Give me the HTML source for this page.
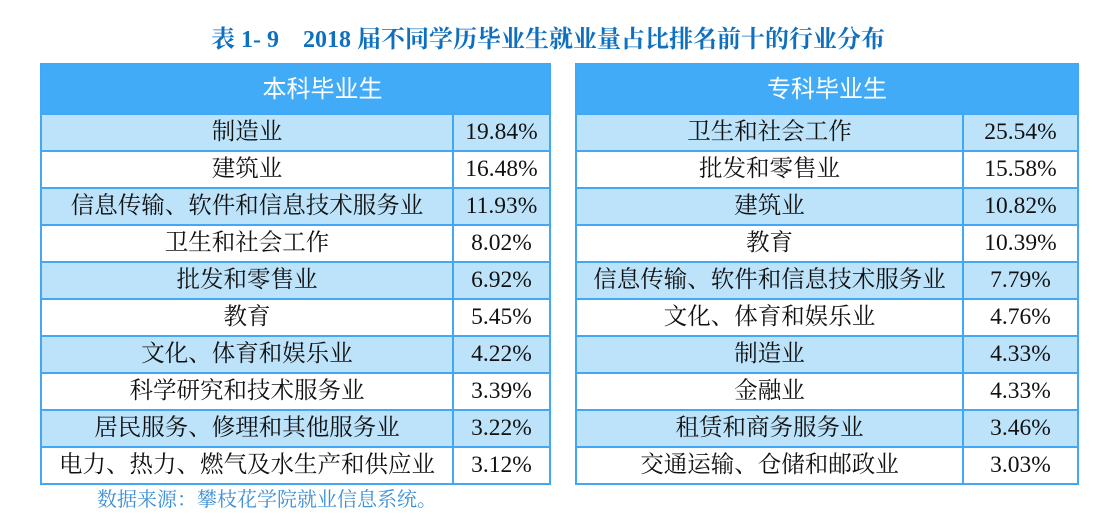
<!DOCTYPE html>
<html><head><meta charset="utf-8"><style>
body{margin:0;width:1104px;height:522px;background:#fff;position:relative;overflow:hidden;font-family:"Liberation Serif","Noto Serif CJK SC",serif;}
.title{position:absolute;left:0;width:1096px;top:24px;text-align:center;font-weight:bold;font-size:24px;color:#0f70c0;line-height:32px;}
table{position:absolute;top:63px;border-collapse:collapse;font-size:23.5px;color:#111;}
td,th{border:2px solid #42a8f6;text-align:center;padding:0;height:35px;line-height:35px;white-space:nowrap;}
th{background:#42abf8;color:#fff;font-weight:normal;height:48px;font-family:"Liberation Sans","Noto Sans CJK SC",sans-serif;font-size:24px;}
tr.b td{background:#bde3fb;}
.foot{position:absolute;left:97px;top:487px;font-size:20px;color:#3d8fd6;line-height:26px;font-family:"Liberation Serif","Noto Serif CJK SC",serif;}
</style></head><body>
<div class="title">表 1- 9&nbsp;&nbsp;&nbsp; 2018 届不同学历毕业生就业量占比排名前十的行业分布</div>
<table style="left:40px;width:511px;">
<tr><th colspan="2" style="padding-left:54px">本科毕业生</th></tr>
<tr class="b"><td style="width:410px">制造业</td><td>19.84%</td></tr>
<tr><td>建筑业</td><td>16.48%</td></tr>
<tr class="b"><td>信息传输、软件和信息技术服务业</td><td>11.93%</td></tr>
<tr><td>卫生和社会工作</td><td>8.02%</td></tr>
<tr class="b"><td>批发和零售业</td><td>6.92%</td></tr>
<tr><td>教育</td><td>5.45%</td></tr>
<tr class="b"><td>文化、体育和娱乐业</td><td>4.22%</td></tr>
<tr><td>科学研究和技术服务业</td><td>3.39%</td></tr>
<tr class="b"><td>居民服务、修理和其他服务业</td><td>3.22%</td></tr>
<tr><td>电力、热力、燃气及水生产和供应业</td><td>3.12%</td></tr>
</table>
<table style="left:575px;width:504px;">
<tr><th colspan="2">专科毕业生</th></tr>
<tr class="b"><td style="width:385px">卫生和社会工作</td><td>25.54%</td></tr>
<tr><td>批发和零售业</td><td>15.58%</td></tr>
<tr class="b"><td>建筑业</td><td>10.82%</td></tr>
<tr><td>教育</td><td>10.39%</td></tr>
<tr class="b"><td>信息传输、软件和信息技术服务业</td><td>7.79%</td></tr>
<tr><td>文化、体育和娱乐业</td><td>4.76%</td></tr>
<tr class="b"><td>制造业</td><td>4.33%</td></tr>
<tr><td>金融业</td><td>4.33%</td></tr>
<tr class="b"><td>租赁和商务服务业</td><td>3.46%</td></tr>
<tr><td>交通运输、仓储和邮政业</td><td>3.03%</td></tr>
</table>
<div class="foot">数据来源：攀枝花学院就业信息系统。</div>
</body></html>
